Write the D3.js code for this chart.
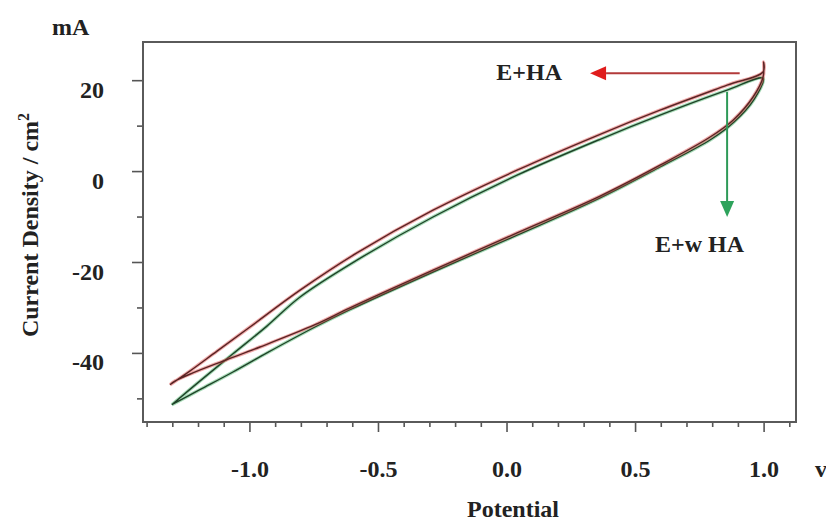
<!DOCTYPE html>
<html>
<head>
<meta charset="utf-8">
<script src="https://cdn.jsdelivr.net/npm/d3@7"></script>
<style>
  body { margin: 0; background: #fff; }
  text { font-family: "Liberation Serif", "Times New Roman", serif; font-weight: bold; fill: #222; }
</style>
</head>
<body>
<svg id="chart" width="826" height="521"></svg>
<script>
// E+HA loop (red): forward sweep then return sweep
const redX = [-1.309, -1.232, -1.126, -0.998, -0.803, -0.582, -0.286, 0.041, 0.364, 0.597, 0.858, 0.998,
  1.0, 0.998, 0.959, 0.881, 0.792, 0.597, 0.364, 0.041, -0.286, -0.609, -0.745, -0.959, -1.103, -1.22, -1.29, -1.309];
const redY = [-47.0, -44.0, -39.6, -34.3, -26.2, -18.0, -8.6, 0.2, 8.1, 13.4, 18.9, 21.8,
  24.0, 20.7, 16.3, 11.2, 7.5, 1.3, -5.5, -13.6, -21.8, -30.1, -33.8, -38.7, -41.8, -44.4, -46.2, -47.0];
// E+w HA loop (green)
const greenX = [-1.302, -1.193, -1.064, -0.932, -0.803, -0.582, -0.286, 0.041, 0.364, 0.597, 0.858, 0.998,
  0.963, 0.885, 0.796, 0.597, 0.364, 0.041, -0.286, -0.609, -0.745, -0.932, -1.064, -1.193, -1.302];
const greenY = [-51.4, -46.2, -40.2, -34.1, -27.7, -19.6, -10.1, -0.9, 7.0, 12.3, 17.8, 20.4,
  15.8, 10.8, 7.0, 0.9, -5.9, -14.1, -22.2, -30.5, -34.3, -40.0, -44.2, -48.1, -51.4];

const xMajor = [-1.0, -0.5, 0.0, 0.5, 1.0];
const xMajorLabels = ["-1.0", "-0.5", "0.0", "0.5", "1.0"];
const xMinor = [-1.4, -1.3, -1.2, -1.1, -0.9, -0.8, -0.7, -0.6, -0.4, -0.3, -0.2, -0.1, 0.1, 0.2, 0.3, 0.4, 0.6, 0.7, 0.8, 0.9, 1.1];
const yMajor = [20, 0, -20, -40];
const yMajorLabels = ["20", "0", "-20", "-40"];
const yMinor = [10, -10, -30, -50];

// annotation arrows (data coords)
const redArrow = [[0.907, 21.5], [0.325, 21.5]];
const greenArrow = [[0.858, 17.4], [0.858, -10.1]];

const svg = d3.select("#chart");
const L = 143, R = 796, T = 42, B = 422;
const x = d3.scaleLinear().domain([-1.414, 1.126]).range([L, R]);
const y = d3.scaleLinear().domain([-55.2, 28.4]).range([B, T]);

// axes
const gx = svg.append("g").attr("transform", `translate(0,${B})`);
gx.call(d3.axisBottom(x).tickValues(xMinor).tickSize(5).tickSizeOuter(0).tickFormat(""));
const gxM = svg.append("g").attr("transform", `translate(0,${B})`);
gxM.call(d3.axisBottom(x).tickValues(xMajor).tickSize(10).tickSizeOuter(0).tickFormat((d, i) => xMajorLabels[i]));
const gy = svg.append("g").attr("transform", `translate(${L},0)`);
gy.call(d3.axisLeft(y).tickValues(yMinor).tickSize(6).tickSizeOuter(0).tickFormat(""));
const gyM = svg.append("g").attr("transform", `translate(${L},0)`);
gyM.call(d3.axisLeft(y).tickValues(yMajor).tickSize(11).tickSizeOuter(0).tickFormat((d, i) => yMajorLabels[i]));
svg.selectAll(".domain").remove();
svg.selectAll(".tick line").attr("stroke", "#555").attr("stroke-width", 1.6);
gxM.selectAll(".tick text").attr("y", 55).attr("dy", 0)
  .style("font-size", "24px").style("font-family", "Liberation Serif").style("font-weight", "bold").attr("fill", "#222");
gyM.selectAll(".tick text").attr("x", -39).attr("dy", 17)
  .style("font-size", "24px").style("font-family", "Liberation Serif").style("font-weight", "bold").attr("fill", "#222");

// frame
svg.append("rect").attr("x", L).attr("y", T).attr("width", R - L).attr("height", B - T)
  .attr("fill", "none").attr("stroke", "#5a5a5a").attr("stroke-width", 2);

const line = d3.line().x(d => x(d[0])).y(d => y(d[1])).curve(d3.curveCatmullRom.alpha(0.5));
const redPts = redX.map((v, i) => [v, redY[i]]);
const greenPts = greenX.map((v, i) => [v, greenY[i]]);

function drawLoop(pts, halo, core) {
  svg.append("path").attr("d", line(pts)).attr("fill", "none")
    .attr("stroke", halo).attr("stroke-opacity", 0.45).attr("stroke-width", 3.5).attr("stroke-linejoin", "round");
  svg.append("path").attr("d", line(pts)).attr("fill", "none")
    .attr("stroke", core).attr("stroke-width", 1.4).attr("stroke-linejoin", "round");
}
drawLoop(greenPts, "#3cb060", "#1f4228");
drawLoop(redPts, "#e04848", "#5a2424");

// arrows
function arrow(a, col, head) {
  const p0 = [x(a[0][0]), y(a[0][1])], p1 = [x(a[1][0]), y(a[1][1])];
  const ang = Math.atan2(p1[1] - p0[1], p1[0] - p0[0]);
  const hl = 16, hw = 7;
  const bx = p1[0] - hl * Math.cos(ang), by = p1[1] - hl * Math.sin(ang);
  svg.append("line").attr("x1", p0[0]).attr("y1", p0[1]).attr("x2", bx).attr("y2", by)
    .attr("stroke", col).attr("stroke-width", 2);
  const nx = -Math.sin(ang) * hw, ny = Math.cos(ang) * hw;
  svg.append("path").attr("d", `M${p1[0]},${p1[1]}L${bx + nx},${by + ny}L${bx - nx},${by - ny}Z`).attr("fill", head);
}
arrow(redArrow, "#b23a3a", "#e01c1c");
arrow(greenArrow, "#2e9a58", "#2ea35c");

// labels
const txt = (s, px, py, anchor) => svg.append("text").attr("x", px).attr("y", py)
  .attr("text-anchor", anchor || "start").style("font-size", "24px").text(s);
txt("E+HA", 562, 80, "end");
txt("E+w HA", 655, 252);
txt("mA", 52, 35);
txt("v", 815, 477);
txt("Potential", 513, 517, "middle");
const yl = svg.append("text").attr("transform", "translate(38,225) rotate(-90)")
  .attr("text-anchor", "middle").style("font-size", "24px");
yl.append("tspan").text("Current Density / cm");
yl.append("tspan").attr("dy", -9).style("font-size", "16px").text("2");
</script>
</body>
</html>
